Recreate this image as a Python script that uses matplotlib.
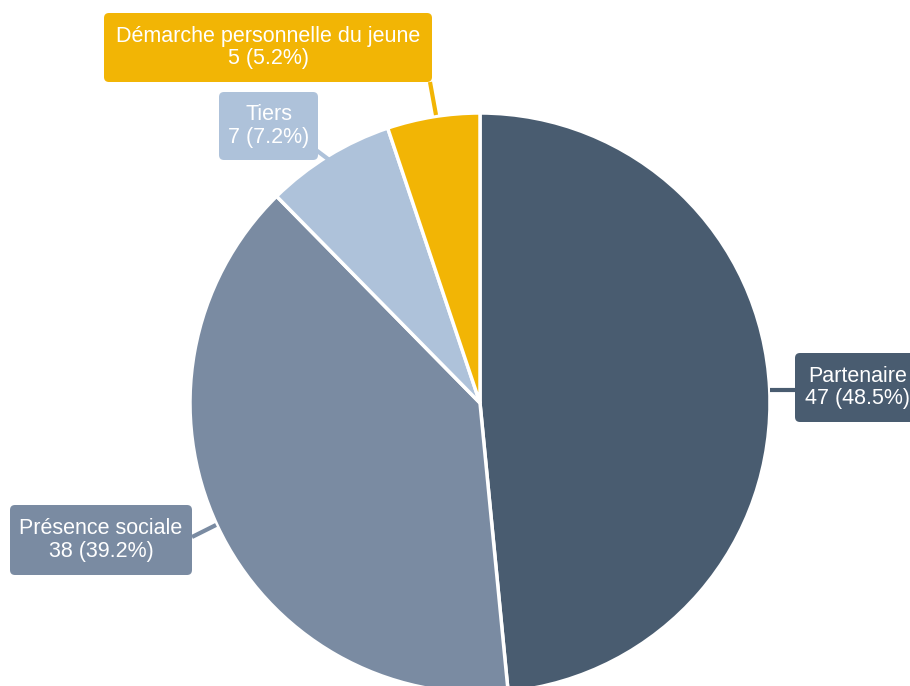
import matplotlib.pyplot as plt
from matplotlib.patches import FancyBboxPatch

plt.rcParams['font.family'] = ['Liberation Sans', 'DejaVu Sans']

categories = ['Partenaire', 'Présence sociale', 'Tiers', 'Démarche personnelle du jeune']
counts = [47, 38, 7, 5]
percents = [48.5, 39.2, 7.2, 5.2]
colors = ['#495c70', '#7a8ba2', '#aec2da', '#f2b505']

# label boxes in pixel space: (x0, y0 top, width, height), connector start/end
boxes = [
    (795, 353, 125, 69, (795, 390), (770, 390)),
    (10, 505, 182, 70, (192, 537), (216, 525)),
    (219, 92, 99, 68, (316, 150), (332, 162)),
    (104, 13, 328, 69, (430, 82), (436, 115)),
]

W, H = 910, 686
fig = plt.figure(figsize=(W / 100, H / 100), dpi=100)
ax = fig.add_axes([0, 0, 1, 1])

cx, cy, r = 480, H - 403, 290
ax.pie(counts, colors=colors, startangle=90, counterclock=False,
       center=(cx, cy), radius=r, frame=True,
       wedgeprops=dict(edgecolor='white', linewidth=2.5))
ax.set_xlim(0, W)
ax.set_ylim(0, H)
ax.set_aspect('equal')
ax.axis('off')

for name, n, pct, col, (x0, y0, w, h, p1, p2) in zip(categories, counts, percents,
                                                     colors, boxes):
    ax.plot([p1[0], p2[0]], [H - p1[1], H - p2[1]], color=col, lw=3,
            solid_capstyle='butt', zorder=3)
    patch = FancyBboxPatch((x0, H - y0 - h), w, h,
                           boxstyle='round,pad=0,rounding_size=5',
                           facecolor=col, edgecolor='none', zorder=4)
    ax.add_patch(patch)
    ax.text(x0 + w / 2, H - y0 - h / 2, f'{name}\n{n} ({pct}%)',
            ha='center', va='center', color='white', fontsize=15.5,
            linespacing=1.12, zorder=5)

fig.savefig('out.png', dpi=100)
